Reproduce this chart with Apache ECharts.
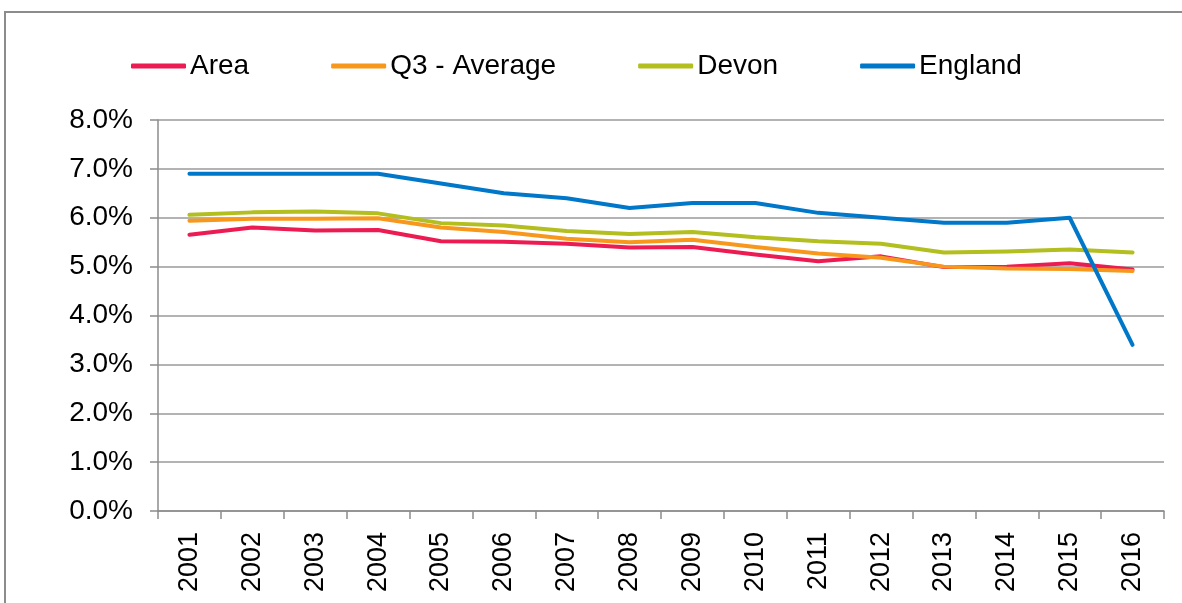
<!DOCTYPE html>
<html>
<head>
<meta charset="utf-8">
<script src="https://cdn.jsdelivr.net/npm/echarts@6/dist/echarts.min.js"></script>
<style>
  html, body { margin: 0; padding: 0; background: #fff; }
  #chart { width: 1182px; height: 603px; }
</style>
</head>
<body>
<div id="chart"></div>
<script>
const years = ['2001','2002','2003','2004','2005','2006','2007','2008','2009','2010','2011','2012','2013','2014','2015','2016'];
const areaValues    = [5.65, 5.80, 5.74, 5.75, 5.52, 5.51, 5.47, 5.39, 5.40, 5.25, 5.11, 5.21, 4.99, 5.00, 5.07, 4.94];
const q3Values      = [5.94, 5.98, 5.98, 5.99, 5.80, 5.71, 5.57, 5.50, 5.55, 5.40, 5.27, 5.18, 5.00, 4.96, 4.95, 4.91];
const devonValues   = [6.06, 6.11, 6.13, 6.09, 5.89, 5.84, 5.73, 5.67, 5.71, 5.60, 5.52, 5.47, 5.29, 5.31, 5.35, 5.29];
const englandValues = [6.9, 6.9, 6.9, 6.9, 6.7, 6.5, 6.4, 6.2, 6.3, 6.3, 6.1, 6.0, 5.9, 5.9, 6.0, 3.4];
const seriesNames = ['Area', 'Q3 - Average', 'Devon', 'England'];
const yTicks = { min: 0, max: 8, interval: 1 };

const colors = ['#EC1B52', '#F7981D', '#B3BE1F', '#0077C8'];
const font = '"Liberation Sans", Arial, sans-serif';
const chart = echarts.init(document.getElementById('chart'), null, { renderer: 'canvas' });

function mk(name, data, color) {
  return {
    name, type: 'line', data, symbol: 'none', smooth: false,
    lineStyle: { color, width: 4, cap: 'round', join: 'round' },
    itemStyle: { color },
    emphasis: { disabled: true }
  };
}

chart.setOption({
  animation: false,
  backgroundColor: '#fff',
  color: colors,
  graphic: [{
    type: 'rect', silent: true,
    shape: { x: 5, y: 12, width: 1300, height: 800 },
    style: { fill: 'none', stroke: '#8c8c8c', lineWidth: 2 }
  }],
  legend: {
    left: 126, top: 47,
    itemGap: 82, itemWidth: 55, itemHeight: 5,
    icon: 'roundRect',
    formatter: name => name === seriesNames[1] ? '{q|' + name + '}' : name,
    textStyle: {
      fontFamily: font, fontSize: 28, color: '#000', padding: [0, 0, 0, -1],
      rich: { q: { fontFamily: font, fontSize: 28, color: '#000', padding: [0, 6, 0, 0] } }
    },
    data: seriesNames
  },
  grid: { left: 158, right: 18, top: 120, bottom: 92, containLabel: false },
  xAxis: {
    type: 'category', data: years, boundaryGap: true,
    axisLine: { lineStyle: { color: '#8c8c8c', width: 1.5 } },
    axisTick: { show: true, length: 8, lineStyle: { color: '#8c8c8c', width: 1.5 } },
    axisLabel: { rotate: 90, margin: 21, fontFamily: font, fontSize: 27, color: '#000', interval: 0 },
    splitLine: { show: false }
  },
  yAxis: {
    type: 'value', min: yTicks.min, max: yTicks.max, interval: yTicks.interval,
    axisLine: { show: true, lineStyle: { color: '#8c8c8c', width: 1.5 } },
    axisTick: { show: true, length: 8, lineStyle: { color: '#8c8c8c', width: 1.5 } },
    axisLabel: { margin: 25, fontFamily: font, fontSize: 28, color: '#000',
      formatter: v => v.toFixed(1) + '%' },
    splitLine: { show: true, lineStyle: { color: '#9a9a9a', width: 1.5 } }
  },
  series: [
    mk(seriesNames[0], areaValues, colors[0]),
    mk(seriesNames[1], q3Values, colors[1]),
    mk(seriesNames[2], devonValues, colors[2]),
    mk(seriesNames[3], englandValues, colors[3])
  ]
});
</script>
</body>
</html>
